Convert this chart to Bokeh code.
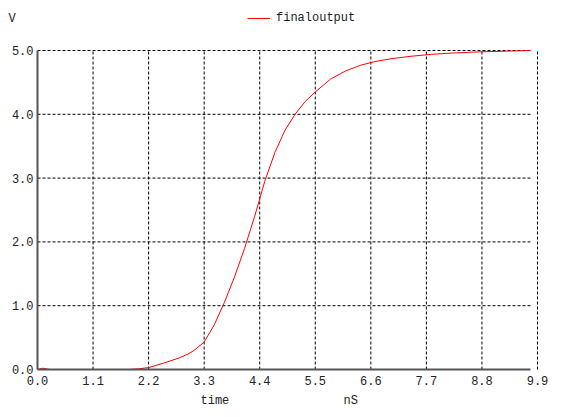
from bokeh.plotting import figure
from bokeh.models import FixedTicker, NumeralTickFormatter, Legend, LegendItem, Range1d, Label
from bokeh.embed import file_html
from bokeh.resources import INLINE

# data (time in nS, output in V)
time_ns = [0.0, 0.1, 0.25, 1.8, 2.0, 2.2, 2.5, 2.8, 3.0, 3.1, 3.3, 3.5, 3.7, 3.9, 4.1, 4.3, 4.5,
           4.7, 4.9, 5.1, 5.3, 5.5, 5.8, 6.1, 6.4, 6.7, 7.0, 7.4, 7.8, 8.2, 8.8, 9.3, 9.76]
volts = [0.0, 0.02, 0.0, 0.0, 0.01, 0.03, 0.1, 0.18, 0.25, 0.3, 0.43, 0.7, 1.05, 1.45, 1.9, 2.4, 2.95,
         3.4, 3.75, 4.0, 4.2, 4.35, 4.55, 4.68, 4.77, 4.83, 4.87, 4.91, 4.94, 4.96, 4.98, 4.99, 5.0]
x_ticks = [0.0, 1.1, 2.2, 3.3, 4.4, 5.5, 6.6, 7.7, 8.8, 9.9]
y_ticks = [0.0, 1.0, 2.0, 3.0, 4.0, 5.0]
series_name = "finaloutput"
y_unit = "V"
x_name = "time"
x_unit = "nS"

FONT = "Liberation Mono"
FS = "12px"
TXT = "#222222"
AXIS_COLOR = "#555555"

W, H = 576, 417
# plot area in pixels (left, right, top, bottom)
L, R, T, B = 37, 537, 50, 369
x0, x1 = x_ticks[0], x_ticks[-1]
y0, y1 = y_ticks[0], y_ticks[-1]
x_end = time_ns[-1]
xs = (x1 - x0) / (R - L)
ys = (y1 - y0) / (B - T)

p = figure(width=W, height=H, output_backend="svg", toolbar_location=None,
           x_range=Range1d(x0 - L * xs, x1 + (W - R) * xs),
           y_range=Range1d(y0 - (H - B) * ys, y1 + T * ys),
           min_border=0, min_border_left=0, min_border_right=0,
           min_border_top=0, min_border_bottom=0)
p.outline_line_color = None
p.background_fill_color = "white"
p.border_fill_color = "white"

# grid
p.xgrid.visible = False
p.ygrid.visible = False
grid_kw = dict(line_color="black", line_dash="3 2", line_width=1)
p.segment(x0=x_ticks[1:], y0=[y0] * (len(x_ticks) - 1), x1=x_ticks[1:], y1=[y1] * (len(x_ticks) - 1), **grid_kw)
p.segment(x0=[x0] * (len(y_ticks) - 1), y0=y_ticks[1:], x1=[x_end] * (len(y_ticks) - 1), y1=y_ticks[1:], **grid_kw)

r = p.line(time_ns, volts, line_color="#ff0000", line_width=1)

for ax, ticks in ((p.xaxis, x_ticks), (p.yaxis, y_ticks)):
    ax.ticker = FixedTicker(ticks=ticks)
    ax.formatter = NumeralTickFormatter(format="0.0")
    ax.bounds = (ticks[0], ticks[-1])
    ax.fixed_location = 0
    ax.major_tick_out = 0
    ax.major_tick_in = 0
    ax.minor_tick_out = 0
    ax.minor_tick_in = 0
    ax.axis_line_color = AXIS_COLOR
    ax.axis_line_width = 2
    ax.major_label_text_font = FONT
    ax.major_label_text_font_size = FS
    ax.major_label_text_color = TXT
p.xaxis.major_label_standoff = 6
p.yaxis.major_label_standoff = 4
# x axis line stops where the trace stops
p.xaxis.axis_line_color = None
p.segment(x0=[x0], y0=[y0], x1=[x_end], y1=[y0], line_color=AXIS_COLOR, line_width=2)

lbl_kw = dict(x_units="screen", y_units="screen", text_font=FONT, text_font_size=FS,
              text_color=TXT, text_baseline="middle")
p.add_layout(Label(x=8, y=H - 18, text=y_unit, **lbl_kw))
p.add_layout(Label(x=200, y=H - 400, text=x_name, **lbl_kw))
p.add_layout(Label(x=343, y=H - 400, text=x_unit, **lbl_kw))

legend = Legend(items=[LegendItem(label=series_name, renderers=[r])],
                location=(247, H - 25), padding=0, margin=0, spacing=0,
                glyph_width=23, glyph_height=14, label_standoff=6, label_height=14,
                border_line_alpha=0, background_fill_alpha=0,
                label_text_font=FONT, label_text_font_size=FS, label_text_color=TXT)
p.add_layout(legend, "center")

open("out.html", "w").write(file_html(p, INLINE))
